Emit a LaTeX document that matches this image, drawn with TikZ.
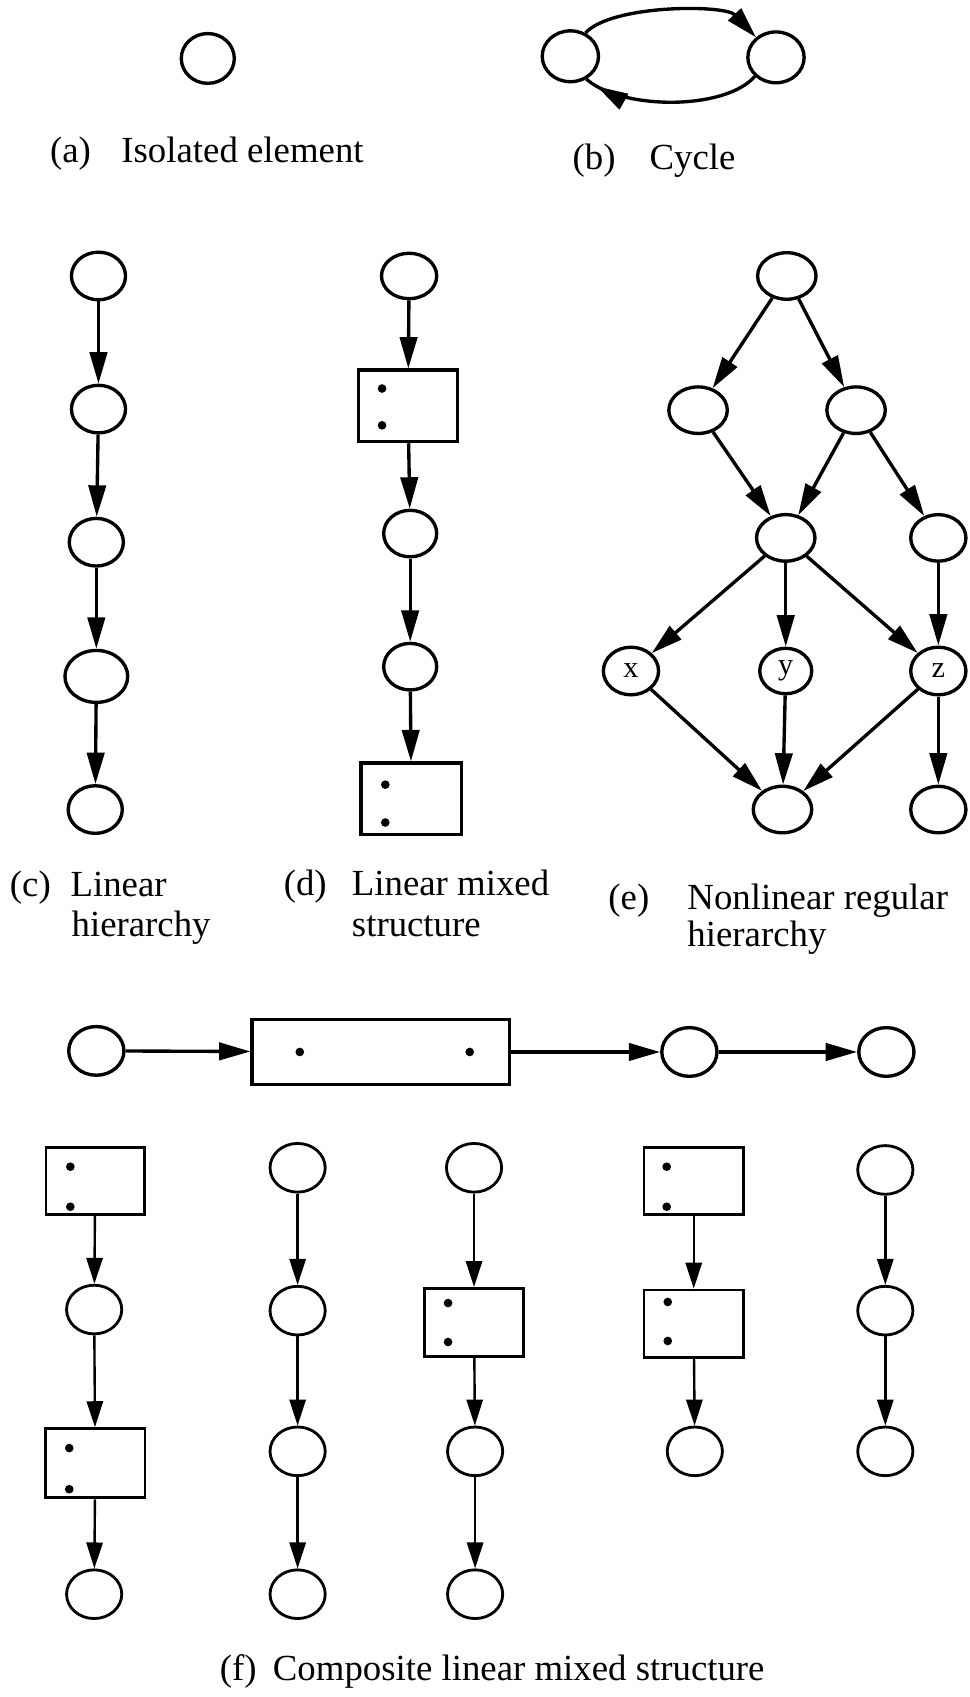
\documentclass[tikz,border=0pt]{standalone}
\usepackage{fontspec}
\setmainfont{Liberation Serif}
\usetikzlibrary{arrows.meta,shapes.geometric,decorations.markings}
\newcommand\capsize{\fontsize{34}{38}\selectfont}
\newcommand\lblsize{\fontsize{28}{28}\selectfont}
\begin{document}
\begin{tikzpicture}[x=1pt,y=-1pt,
  el/.style={draw,ellipse,line width=3.1pt,inner sep=0pt,minimum width=50pt,minimum height=44pt},
  eel/.style={el,minimum width=54pt,minimum height=43pt},
  fel/.style={el,line width=2.6pt,minimum width=51pt,minimum height=45pt},
  bx/.style={draw,rectangle,line width=3.1pt,inner sep=0pt},
  fbx/.style={bx,line width=2.6pt,minimum width=92pt,minimum height=63pt},
  arr/.style={line width=3.1pt,-{Triangle[length=29pt,width=16pt]}},
  farr/.style={line width=2.2pt,-{Triangle[length=24pt,width=15pt]}},
  captxt/.style={anchor=base west,inner sep=0pt,font=\capsize},
  dot/.style={fill=black}
]
\useasboundingbox (0,0) rectangle (896,1568);

% (a)
\node[el,minimum width=49pt,minimum height=46pt] (a1) at (192,54) {};
\node[captxt] (la) at (46,150) {(a)};
\node[captxt] (ta) at (112,150) {Isolated element};

% (b)
\node[el,minimum width=52pt,minimum height=47pt] (b1) at (527,52) {};
\node[el,minimum width=52pt,minimum height=47pt] (b2) at (717,53) {};
\draw[arr] (b1.57) .. controls (565,4) and (670,4) .. (b2.135);
\draw[line width=3.1pt,postaction={decorate},
  decoration={markings,mark=at position 0.93 with {\arrow{Triangle[length=29pt,width=16pt]}}}]
  (b2.222) .. controls (670,102) and (575,102) .. (b1.305);
\node[captxt] (lb) at (529,157) {(b)};
\node[captxt] (tb) at (600,157) {Cycle};

% (c)
\node[el] (c1) at (91,255) {};
\node[el] (c2) at (91,378) {};
\node[el] (c3) at (89,501) {};
\node[el,minimum width=58pt,minimum height=48pt] (c4) at (89,625) {};
\node[el] (c5) at (88,748) {};
\draw[arr] (c1) -- (c2);
\draw[arr] (c2) -- (c3);
\draw[arr] (c3) -- (c4);
\draw[arr] (c4) -- (c5);
\node[captxt] (lc) at (9,828) {(c)};
\node[captxt] (tc1) at (65,828) {Linear};
\node[captxt] (tc2) at (66,865) {hierarchy};

% (d)
\node[el,minimum width=51pt,minimum height=42pt] (d1) at (378,255) {};
\node[bx,minimum width=92pt,minimum height=66pt] (d2) at (377,375) {};
\node[el,minimum width=49pt,minimum height=43pt] (d3) at (379,493) {};
\node[el,minimum width=49pt,minimum height=43pt] (d4) at (379,616) {};
\node[bx,minimum width=93pt,minimum height=66pt] (d5) at (380,738) {};
\fill[dot] (353,359) circle[radius=4pt];
\fill[dot] (353,393) circle[radius=4pt];
\fill[dot] (356,725) circle[radius=4pt];
\fill[dot] (356,760) circle[radius=4pt];
\draw[arr] (d1) -- (d2);
\draw[arr] (d2) -- (d3);
\draw[arr] (d3) -- (d4);
\draw[arr] (d4) -- (d5);
\node[captxt] (ld) at (262,827) {(d)};
\node[captxt] (td1) at (325,827) {Linear mixed};
\node[captxt] (td2) at (325,865) {structure};

% (e)
\node[eel] (e1) at (727,255) {};
\node[eel] (e2) at (645,379) {};
\node[eel] (e3) at (791,379) {};
\node[eel] (e4) at (726,497) {};
\node[eel,minimum width=51pt] (e5) at (867,497) {};
\node[el,minimum width=51pt,minimum height=44pt,font=\lblsize] (ex) at (583,620) {x};
\node[el,minimum width=48pt,minimum height=42pt,font=\lblsize] (ey) at (726,620) {y};
\node[el,minimum width=51pt,minimum height=44pt,font=\lblsize] (ez) at (867,620) {z};
\node[eel] (e6) at (723,748) {};
\node[eel,minimum width=51pt] (e7) at (867,748) {};
\draw[arr] (e1) -- (e2);
\draw[arr] (e1) -- (e3);
\draw[arr] (e2) -- (e4);
\draw[arr] (e3) -- (e4);
\draw[arr] (e3) -- (e5);
\draw[arr] (e4) -- (ex);
\draw[arr] (e4) -- (ey);
\draw[arr] (e4) -- (ez);
\draw[arr] (e5) -- (ez);
\draw[arr] (ex) -- (e6);
\draw[arr] (ey) -- (e6);
\draw[arr] (ez) -- (e6);
\draw[arr] (ez) -- (e7);
\node[captxt] (le) at (562,840) {(e)};
\node[captxt] (te1) at (635,840) {Nonlinear regular};
\node[captxt] (te2) at (635,875) {hierarchy};

% (f) top row
\node[el,minimum width=51pt,minimum height=45pt] (f1) at (89,971) {};
\node[bx,minimum width=238pt,minimum height=60pt] (fb) at (352,972) {};
\fill[dot] (277,972) circle[radius=4pt];
\fill[dot] (434,972) circle[radius=4pt];
\node[el,minimum width=51pt,minimum height=45pt] (f3) at (637,972) {};
\node[el,minimum width=51pt,minimum height=45pt] (f4) at (819,972) {};
\draw[arr] (f1) -- (fb);
\draw[arr] (fb) -- (f3);
\draw[arr] (f3) -- (f4);

% (f) column 1
\node[fbx,minimum width=91pt,minimum height=62pt] (g1) at (88,1091) {};
\fill[dot] (65,1078) circle[radius=4pt];
\fill[dot] (65,1115) circle[radius=4pt];
\node[fel] (g2) at (87,1210) {};
\node[fbx,minimum height=64pt] (g3) at (88,1352) {};
\fill[dot] (64,1338) circle[radius=4pt];
\fill[dot] (64,1376) circle[radius=4pt];
\node[fel] (g4) at (87,1473) {};
\draw[farr] (g1) -- (g2);
\draw[farr] (g2) -- (g3);
\draw[farr] (g3) -- (g4);

% (f) column 2
\node[fel] (h1) at (275,1079) {};
\node[fel] (h2) at (275,1211) {};
\node[fel] (h3) at (275,1341) {};
\node[fel] (h4) at (275,1473) {};
\draw[farr] (h1) -- (h2);
\draw[farr] (h2) -- (h3);
\draw[farr] (h3) -- (h4);

% (f) column 3
\node[fel] (i1) at (438,1079) {};
\node[fbx] (i2) at (438,1222) {};
\fill[dot] (414,1204) circle[radius=4pt];
\fill[dot] (414,1240) circle[radius=4pt];
\node[fel] (i3) at (439,1341) {};
\node[fel] (i4) at (439,1473) {};
\draw[farr] (i1) -- (i2);
\draw[farr] (i2) -- (i3);
\draw[farr] (i3) -- (i4);

% (f) column 4
\node[fbx,minimum height=62pt] (j1) at (641,1091) {};
\fill[dot] (616,1078) circle[radius=4pt];
\fill[dot] (616,1115) circle[radius=4pt];
\node[fbx,minimum height=62pt] (j2) at (641,1223) {};
\fill[dot] (617,1203) circle[radius=4pt];
\fill[dot] (617,1239) circle[radius=4pt];
\node[fel] (j3) at (642,1341) {};
\draw[farr] (j1) -- (j2);
\draw[farr] (j2) -- (j3);

% (f) column 5
\node[fel] (k1) at (818,1081) {};
\node[fel] (k2) at (818,1211) {};
\node[fel] (k3) at (818,1341) {};
\draw[farr] (k1) -- (k2);
\draw[farr] (k2) -- (k3);

\node[captxt] (lf) at (203,1553) {(f)};
\node[captxt] (tf) at (252,1553) {Composite linear mixed structure};
\end{tikzpicture}
\end{document}
